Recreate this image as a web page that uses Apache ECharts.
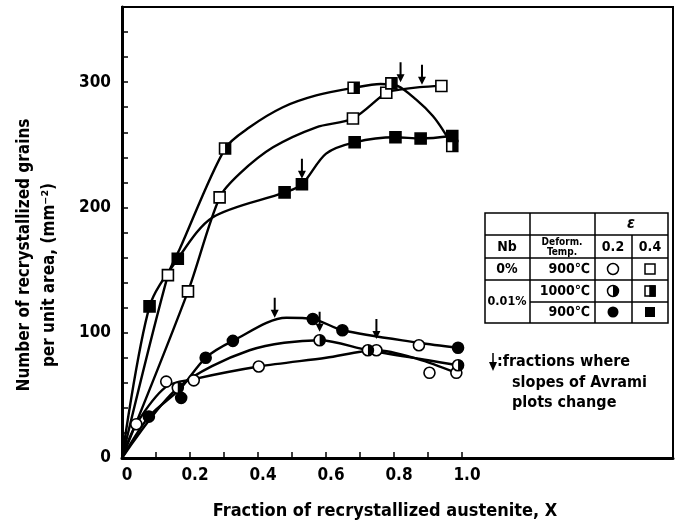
<!DOCTYPE html>
<html>
<head>
<meta charset="utf-8">
<script src="https://cdn.jsdelivr.net/npm/echarts@6/dist/echarts.min.js"></script>
<style>
  html, body { margin: 0; padding: 0; background: #fff; }
  #chart { width: 677px; height: 530px; }
</style>
</head>
<body>
<div id="chart"></div>
<script>
// measured points [fraction X, grains per mm^2]
const openCirclePts = [[0.042, 27], [0.13, 61], [0.211, 62], [0.402, 73], [0.748, 86], [0.873, 90], [0.904, 68], [0.983, 68]]
const openCircleCurve = [[0, 0], [0.042, 27], [0.13, 57], [0.211, 63], [0.402, 73], [0.6, 80], [0.748, 86], [0.87, 79], [0.983, 68]]

const halfCirclePts = [[0.164, 56], [0.581, 94], [0.723, 86], [0.988, 74]]
const halfCircleCurve = [[0, 0], [0.164, 56], [0.375, 86], [0.581, 94], [0.723, 86], [0.9, 78], [0.988, 74]]

const fullCirclePts = [[0.079, 33], [0.174, 48], [0.246, 80], [0.326, 93.5], [0.561, 111], [0.648, 102], [0.988, 88]]
const fullCircleCurve = [[0, 0], [0.079, 33], [0.17, 55], [0.246, 80], [0.326, 93.5], [0.483, 112], [0.561, 111], [0.648, 102], [0.873, 92], [0.988, 88]]

const openSquarePts = [[0.135, 146], [0.194, 133], [0.287, 208], [0.679, 271], [0.777, 291.5], [0.939, 297]]
const openSquareCurve = [[0, 0], [0.194, 133], [0.287, 208], [0.346, 227], [0.444, 248], [0.571, 264], [0.679, 271], [0.777, 291.5], [0.816, 294], [0.875, 296], [0.939, 297]]

const halfSquarePts = [[0.303, 247], [0.681, 295.5], [0.792, 299], [0.971, 249]]
const halfSquareCurve = [[0, 0], [0.135, 146], [0.17, 167], [0.303, 247], [0.375, 264], [0.473, 280], [0.571, 289.4], [0.681, 295.5], [0.76, 298.5], [0.81, 297], [0.865, 286], [0.914, 273], [0.948, 260], [0.971, 249]]

const fullSquarePts = [[0.081, 121], [0.164, 159], [0.478, 212], [0.529, 218.5], [0.684, 252], [0.804, 256], [0.878, 255], [0.971, 257]]
const fullSquareCurve = [[0, 0], [0.081, 121], [0.164, 159], [0.266, 192], [0.478, 212], [0.529, 218.5], [0.6, 243], [0.684, 252], [0.804, 256], [0.878, 255], [0.971, 257]]

// tips of the "slope change" arrows
const arrowTips = [[0.819, 300], [0.882, 298], [0.529, 223], [0.449, 112], [0.581, 100.7], [0.748, 95]]

const yTicks = [0, 100, 200, 300]
const xTickLabels = ['0', '0.2', '0.4', '0.6', '0.8', '1.0']

const FONT = "'Liberation Sans Narrow', 'DejaVu Sans Condensed', 'Liberation Sans', sans-serif"
const SYM = 11
const ARROW = 'path://M3,0 L5,0 L5,12 L8,12 L4,20 L0,12 L3,12 Z'
const HALF_DISC = 'path://M0,0 C5.52,0 10,4.48 10,10 C10,15.52 5.52,20 0,20 Z'

const curve = (data) => ({
  type: 'line',
  data,
  smooth: 0.3,
  showSymbol: false,
  silent: true,
  lineStyle: { color: '#000', width: 2.4 },
  z: 2,
})

const marks = (data, symbol, fill) => ({
  type: 'scatter',
  data,
  symbol,
  symbolSize: SYM,
  silent: true,
  itemStyle: { color: fill, borderColor: '#000', borderWidth: 1.6, opacity: 1 },
  z: 3,
})

const halfOverlay = (data, symbol) => ({
  type: 'scatter',
  data,
  symbol,
  symbolSize: [SYM / 2, SYM],
  symbolOffset: [SYM / 4, 0],
  silent: true,
  itemStyle: { color: '#000', opacity: 1 },
  z: 4,
})

const chart = echarts.init(document.getElementById('chart'))

const txt = (text, x, y, extra) => ({
  type: 'text',
  x,
  y,
  style: Object.assign({
    text,
    font: 'bold 14px ' + FONT,
    fill: '#000',
    textAlign: 'center',
    textVerticalAlign: 'middle',
  }, extra || {}),
})

const ln = (x1, y1, x2, y2) => ({
  type: 'line',
  shape: { x1, y1, x2, y2 },
  style: { stroke: '#000', lineWidth: 1.5 },
})

// legend table
const colX = [485, 530, 595, 632, 668]
const rowY = [213, 235, 258, 280, 302, 323]
const table = [
  { type: 'rect', shape: { x: 485, y: 213, width: 183, height: 110 }, style: { fill: '#fff', stroke: '#000', lineWidth: 1.5 } },
  ln(colX[1], rowY[0], colX[1], rowY[5]),
  ln(colX[2], rowY[0], colX[2], rowY[5]),
  ln(colX[3], rowY[1], colX[3], rowY[5]),
  ln(colX[0], rowY[1], colX[4], rowY[1]),
  ln(colX[0], rowY[2], colX[4], rowY[2]),
  ln(colX[0], rowY[3], colX[4], rowY[3]),
  ln(colX[1], rowY[4], colX[4], rowY[4]),
  txt('ε', 631, 224, { font: 'italic bold 16px ' + FONT }),
  txt('Nb', 507, 247),
  txt('Deform.', 562, 242, { font: 'bold 10px ' + FONT }),
  txt('Temp.', 562, 252, { font: 'bold 10px ' + FONT }),
  txt('0.2', 613, 247),
  txt('0.4', 650, 247),
  txt('0%', 507, 269),
  txt('0.01%', 507, 302, { font: 'bold 12.5px ' + FONT }),
  txt('900℃', 590, 269, { textAlign: 'right' }),
  txt('1000℃', 590, 291, { textAlign: 'right' }),
  txt('900℃', 590, 312, { textAlign: 'right' }),
  { type: 'circle', shape: { cx: 613, cy: 269, r: 5.5 }, style: { fill: '#fff', stroke: '#000', lineWidth: 1.5 } },
  { type: 'circle', shape: { cx: 613, cy: 291, r: 5.5 }, style: { fill: '#fff', stroke: '#000', lineWidth: 1.5 } },
  { type: 'sector', shape: { cx: 613, cy: 291, r: 5.5, r0: 0, startAngle: -Math.PI / 2, endAngle: Math.PI / 2, clockwise: true }, style: { fill: '#000' } },
  { type: 'circle', shape: { cx: 613, cy: 312, r: 5.5 }, style: { fill: '#000' } },
  { type: 'rect', shape: { x: 645, y: 264, width: 10, height: 10 }, style: { fill: '#fff', stroke: '#000', lineWidth: 1.5 } },
  { type: 'rect', shape: { x: 645, y: 286, width: 10, height: 10 }, style: { fill: '#fff', stroke: '#000', lineWidth: 1.5 } },
  { type: 'rect', shape: { x: 650, y: 286, width: 5, height: 10 }, style: { fill: '#000', stroke: '#000', lineWidth: 1.5 } },
  { type: 'rect', shape: { x: 645, y: 307, width: 10, height: 10 }, style: { fill: '#000' } },
]

const note = [
  { type: 'polygon', shape: { points: [[489, 362], [497, 362], [493, 371]] }, style: { fill: '#000' } },
  ln(493, 353, 493, 363),
  txt(':fractions where', 497, 362, { textAlign: 'left', font: 'bold 16px ' + FONT }),
  txt('slopes of Avrami', 512, 383, { textAlign: 'left', font: 'bold 16px ' + FONT }),
  txt('plots change', 512, 403, { textAlign: 'left', font: 'bold 16px ' + FONT }),
]

const names = [
  txt('Number of recrystallized grains', 25, 255, { font: 'bold 17px ' + FONT }),
  txt('per unit area, (mm⁻²)', 50, 275, { font: 'bold 17px ' + FONT }),
  txt('Fraction of recrystallized austenite, X', 385, 511, { font: 'bold 18px ' + FONT }),
]
names[0].rotation = Math.PI / 2
names[1].rotation = Math.PI / 2

chart.setOption({
  animation: false,
  backgroundColor: '#fff',
  grid: [
    { left: 122, right: 4, top: 7, bottom: 72, show: true, borderColor: '#000', borderWidth: 2 },
    { left: 122, width: 340, top: 7, bottom: 72 },
  ],
  xAxis: [
    {
      type: 'value',
      gridIndex: 0,
      min: 0,
      max: 1.62,
      axisLine: { show: true, lineStyle: { color: '#000', width: 3 } },
      axisTick: { show: false },
      axisLabel: { show: false },
      splitLine: { show: false },
    },
    {
      type: 'value',
      gridIndex: 1,
      min: 0,
      max: 1,
      interval: 0.1,
      axisLine: { show: false },
      axisTick: { show: true, inside: true, length: 6, lineStyle: { color: '#000', width: 1.5 } },
      axisLabel: {
        color: '#000',
        fontFamily: FONT,
        fontSize: 17,
        fontWeight: 'bold',
        margin: 9,
        padding: [0, 0, 0, 10],
        formatter: (v) => {
          const k = Math.round(v * 10)
          return k % 2 === 0 ? xTickLabels[k / 2] : ''
        },
      },
      splitLine: { show: false },
    },
  ],
  yAxis: [
    {
      type: 'value',
      gridIndex: 0,
      min: 0,
      max: 360,
      interval: 20,
      axisLine: { show: true, lineStyle: { color: '#000', width: 3 } },
      axisTick: { show: true, inside: true, length: 6, lineStyle: { color: '#000', width: 1.5 } },
      axisLabel: {
        color: '#000',
        fontFamily: FONT,
        fontSize: 17,
        fontWeight: 'bold',
        margin: 11,
        formatter: (v) => (yTicks.indexOf(v) >= 0 ? String(v) : ''),
      },
      splitLine: { show: false },
    },
    { type: 'value', gridIndex: 1, min: 0, max: 360, show: false },
  ],
  graphic: [].concat(names, table, note),
  series: [
    curve(openCircleCurve),
    curve(halfCircleCurve),
    curve(fullCircleCurve),
    curve(openSquareCurve),
    curve(halfSquareCurve),
    curve(fullSquareCurve),
    marks(openCirclePts, 'circle', '#fff'),
    marks(halfCirclePts, 'circle', '#fff'),
    halfOverlay(halfCirclePts, HALF_DISC),
    marks(fullCirclePts, 'circle', '#000'),
    marks(openSquarePts, 'rect', '#fff'),
    marks(halfSquarePts, 'rect', '#fff'),
    halfOverlay(halfSquarePts, 'rect'),
    marks(fullSquarePts, 'rect', '#000'),
    {
      type: 'scatter',
      data: arrowTips,
      symbol: ARROW,
      symbolSize: [8, 20],
      symbolOffset: [0, -10],
      silent: true,
      itemStyle: { color: '#000', opacity: 1 },
      z: 5,
    },
  ],
})
</script>
</body>
</html>
